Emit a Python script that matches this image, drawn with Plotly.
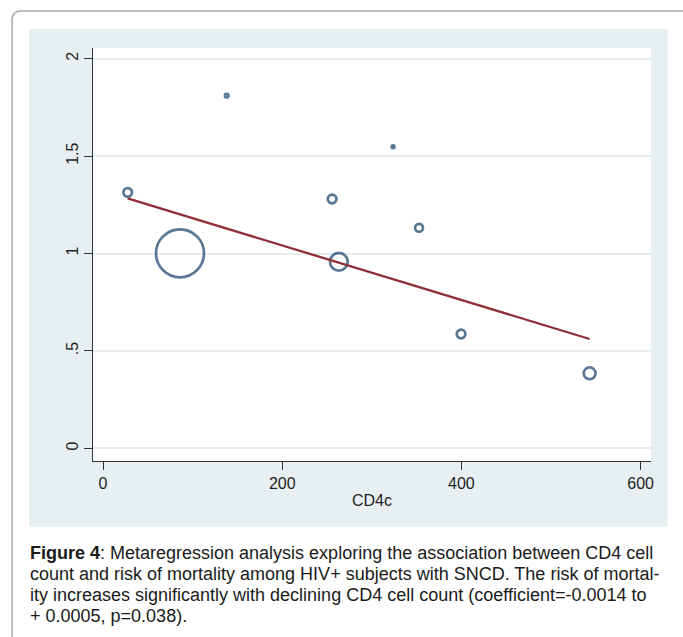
import plotly.graph_objects as go

# ---- data ----
cd4 = [27.5, 85.9, 138.0, 255.7, 263.2, 323.7, 352.7, 399.6, 543.1]
rr = [1.314, 1.001, 1.810, 1.280, 0.958, 1.548, 1.132, 0.587, 0.385]
weights = [3.0, 92.0, 0.5, 3.0, 12.5, 0.3, 2.5, 3.0, 5.6]
intercept = 1.3215
slope = -0.0014
x_ticks = [0, 200, 400, 600]
x_ticklabels = ["0", "200", "400", "600"]
y_ticks = [0, 0.5, 1, 1.5, 2]
y_ticklabels = ["0", ".5", "1", "1.5", "2"]
caption = [
    "<b>Figure 4</b>: Metaregression analysis exploring the association between CD4 cell",
    "count and risk of mortality among HIV+ subjects with SNCD. The risk of mortal-",
    "ity increases significantly with declining CD4 cell count (coefficient=-0.0014 to",
    "+ 0.0005, p=0.038).",
]

W, H = 683, 637
L, R, T, B = 93, 651.5, 48, 461
PW, PH = R - L, B - T

def px(x):
    return (x - L) / PW

def py(y):
    return (B - y) / PH

NAVY = "#153f66"
MAROON = "#8e2f36"
PANEL = "#e8eff2"
GRID = "#e5edf0"
AX = "#333333"

sizes = [5.0 * w ** 0.5 for w in weights]
fit_x = [min(cd4), max(cd4)]
fit_y = [intercept + slope * v for v in fit_x]

fig = go.Figure()
fig.add_trace(go.Scatter(
    x=cd4, y=rr, mode="markers",
    marker=dict(size=sizes, sizemode="diameter", color="rgba(0,0,0,0)",
                line=dict(color=NAVY, width=2.7)),
    showlegend=False, hoverinfo="x+y"))
fig.add_trace(go.Scatter(
    x=fit_x, y=fit_y, mode="lines",
    line=dict(color=MAROON, width=2.3), showlegend=False))

shapes = [
    dict(type="rect", xref="paper", yref="paper", layer="below",
         x0=px(29), x1=px(668), y0=py(527), y1=py(29),
         fillcolor=PANEL, line=dict(width=0)),
    dict(type="rect", xref="paper", yref="paper", layer="below",
         x0=0, x1=1, y0=0, y1=1, fillcolor="white", line=dict(width=0)),
    dict(type="path", xref="paper", yref="paper", layer="below",
         path=(f"M {px(12)},{py(660)} L {px(12)},{py(20)} "
               f"Q {px(12)},{py(11)} {px(21)},{py(11)} L {px(700)},{py(11)}"),
         line=dict(color="#a8a8a8", width=1.5)),
]

annotations = []
for i, line in enumerate(caption):
    annotations.append(dict(
        text=line, xref="paper", yref="paper", x=px(28), y=py(553 + 21 * i),
        xanchor="left", yanchor="middle", showarrow=False,
        font=dict(family="Liberation Sans, Arial, sans-serif", size=18, color="#1a1a1a")))

fig.update_layout(
    width=W, height=H,
    margin=dict(l=L, r=W - R, t=T, b=H - B, pad=0),
    paper_bgcolor="white", plot_bgcolor="white",
    shapes=shapes, annotations=annotations,
    font=dict(family="Liberation Sans, Arial, sans-serif", color="#222"),
    xaxis=dict(range=[-11.2, 611.6], tickvals=x_ticks, ticktext=x_ticklabels,
               showgrid=False, zeroline=False, showline=True, linecolor=AX, linewidth=1,
               ticks="outside", ticklen=8, tickcolor=AX, tickwidth=1,
               tickfont=dict(size=16, color="#1e1e1e"),
               title=dict(text="CD4c", font=dict(size=16, color="#1e1e1e"), standoff=3)),
    yaxis=dict(range=[-0.065, 2.055], tickvals=y_ticks, ticktext=y_ticklabels,
               showgrid=True, gridcolor=GRID, gridwidth=2, zeroline=False,
               showline=True, linecolor=AX, linewidth=1,
               ticks="outside", ticklen=8, tickcolor=AX, tickwidth=1,
               tickangle=-90, tickfont=dict(size=16, color="#1e1e1e")),
)

fig.write_html("out.html")
